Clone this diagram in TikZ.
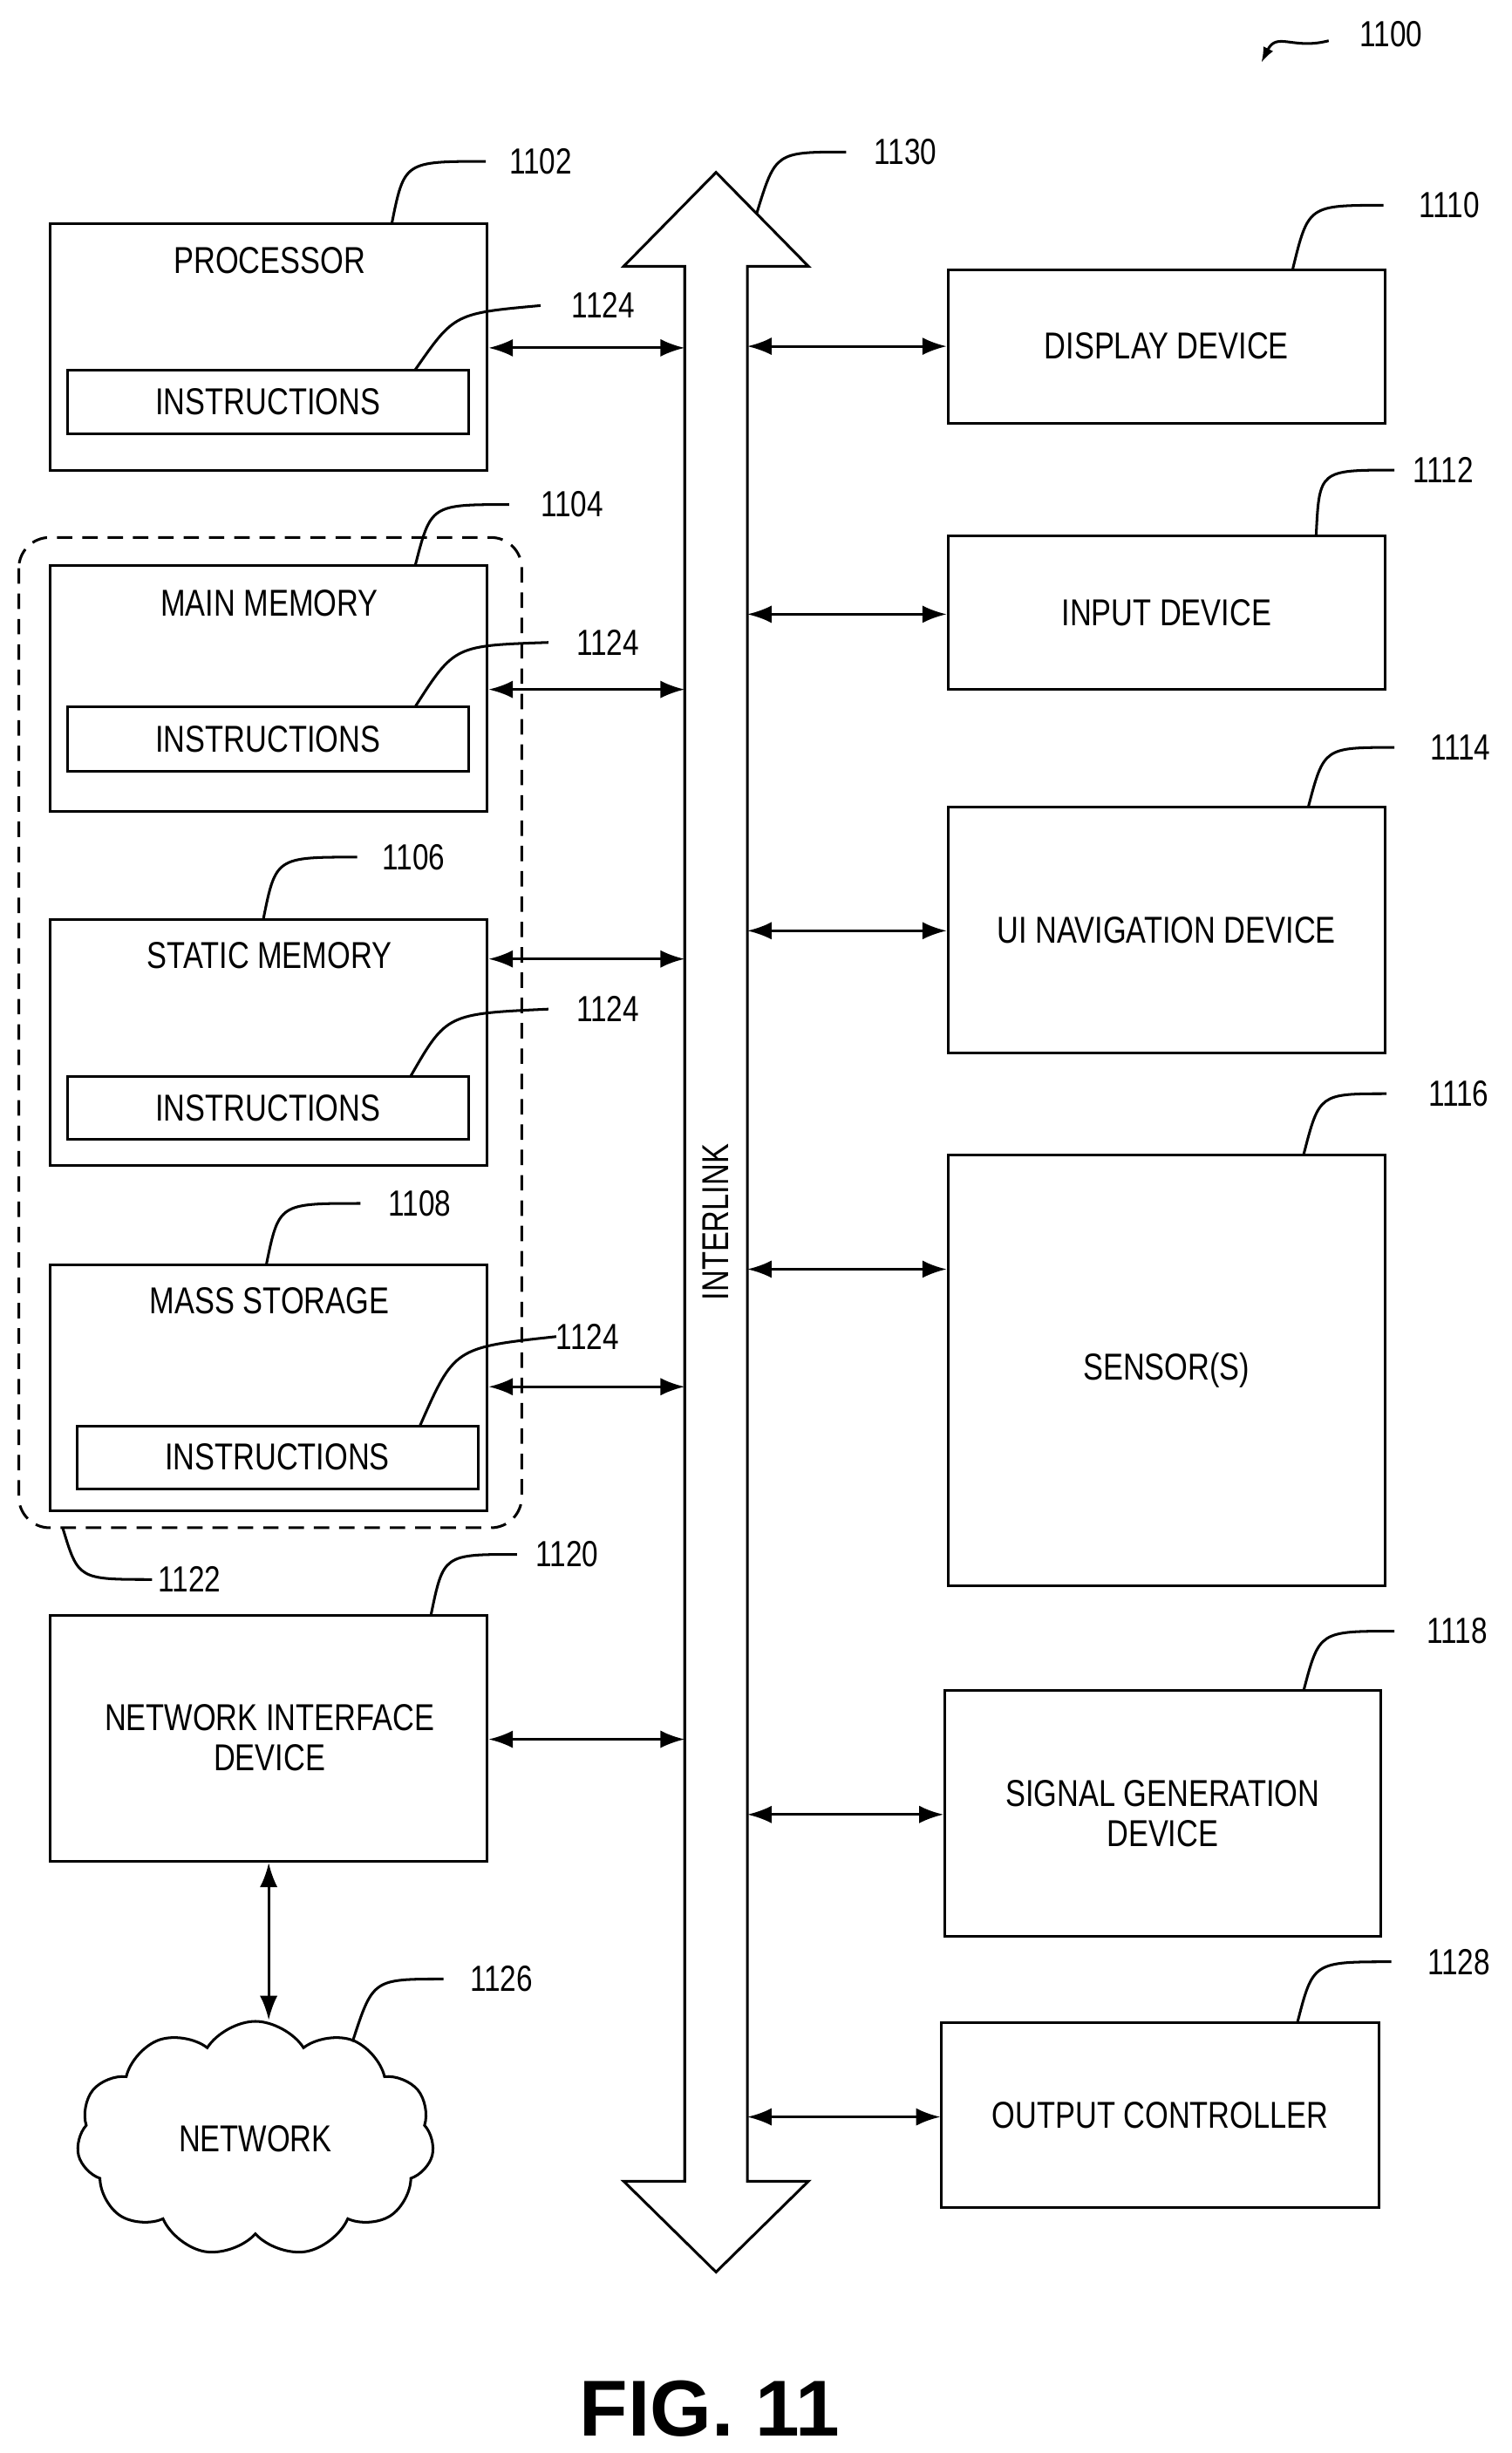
\documentclass[tikz,border=0pt]{standalone}
\usepackage{fontspec}
\setmainfont{Liberation Sans}[FakeStretch=0.8]
\newfontfamily\figfont{Liberation Sans}
\usetikzlibrary{arrows.meta,shapes.symbols}
\begin{document}
\begin{tikzpicture}[x=0.05cm,y=-0.05cm,line width=2.4pt,
  every node/.style={font=\fontsize{34}{40}\selectfont,inner sep=0},
  lbl/.style={font=\fontsize{33}{40}\selectfont},
  arr/.style={{Latex[length=22pt,width=16pt]}-{Latex[length=22pt,width=16pt]}}]
\useasboundingbox (0,0) rectangle (965,1565.5);
\newcommand{\bx}[5]{\node[draw,minimum width={(#4-#2)*0.05cm},minimum height={(#5-#3)*0.05cm}] (#1) at ({(#2+#4)/2},{(#3+#5)/2}) {};}
% left boxes
\bx{pro}{32}{143}{311}{300}
\node (tpro) at (172,166) {PROCESSOR};
\bx{ipro}{43}{236}{299}{277}
\node at (ipro) {INSTRUCTIONS};
\bx{mm}{32}{361}{311}{518}
\node (tmm) at (172,385) {MAIN MEMORY};
\bx{imm}{43}{451}{299}{492}
\node at (imm) {INSTRUCTIONS};
\bx{sm}{32}{587}{311}{744}
\node (tsm) at (172,610) {STATIC MEMORY};
\bx{ism}{43}{687}{299}{727}
\node at (ism) {INSTRUCTIONS};
\bx{ms}{32}{807}{311}{964}
\node (tms) at (172,830) {MASS STORAGE};
\bx{ims}{49}{910}{305}{950}
\node at (ims) {INSTRUCTIONS};
\draw[dashed,dash pattern=on 14pt off 9pt,rounded corners=28pt] (12,343) rectangle (333,975);
\bx{nid}{32}{1031}{311}{1188}
\node[align=center] at (172,1109) {NETWORK INTERFACE\\[-4pt]DEVICE};
\node[cloud,draw,cloud puffs=11,cloud puff arc=115,aspect=1.6,minimum width=228*0.05cm,minimum height=150*0.05cm] (net) at (163,1365) {};
\node at (163,1365) {NETWORK};
% right boxes
\bx{dd}{605}{172}{884}{270}
\node at (dd) {DISPLAY DEVICE};
\bx{id}{605}{342}{884}{440}
\node at (id) {INPUT DEVICE};
\bx{ui}{605}{515}{884}{672}
\node at (ui) {UI NAVIGATION DEVICE};
\bx{se}{605}{737}{884}{1012}
\node at (se) {SENSOR(S)};
\bx{sg}{603}{1079}{881}{1236}
\node[align=center] at (sg) {SIGNAL GENERATION\\[-4pt]DEVICE};
\bx{oc}{601}{1291}{880}{1409}
\node at (oc) {OUTPUT CONTROLLER};
% bus
\draw[line join=miter] (437,1392) -- (437,170) -- (398,170) -- (457,110) -- (516,170) -- (477,170) -- (477,1392) -- (516,1392) -- (457,1450) -- (398,1392) -- cycle;
\coordinate (bl) at (437,0); \coordinate (br) at (477,0);
\node[rotate=90] (il) at (457,780) {INTERLINK};
% arrows left
\draw[arr] (pro.east|-0,222) -- (bl|-0,222);
\draw[arr] (mm.east|-0,440) -- (bl|-0,440);
\draw[arr] (sm.east|-0,612) -- (bl|-0,612);
\draw[arr] (ms.east|-0,885) -- (bl|-0,885);
\draw[arr] (nid.east|-0,1110) -- (bl|-0,1110);
\draw[arr] (nid.south) -- (net.north-|nid.south);
% arrows right
\draw[arr] (br|-0,221) -- (dd.west|-0,221);
\draw[arr] (br|-0,392) -- (id.west|-0,392);
\draw[arr] (br|-0,594) -- (ui.west|-0,594);
\draw[arr] (br|-0,810) -- (se.west|-0,810);
\draw[arr] (br|-0,1158) -- (sg.west|-0,1158);
\draw[arr] (br|-0,1351) -- (oc.west|-0,1351);
% leaders
\draw (250,143) .. controls (258,103) .. (310,103); \node[lbl] at (345,103) {1102};
\draw (265,236) .. controls (290,200) .. (345,195); \node[lbl] at (385,195) {1124};
\draw (265,361) .. controls (275,322) .. (325,322); \node[lbl] at (365,322) {1104};
\draw (265,451) .. controls (290,412) .. (350,410); \node[lbl] at (388,410) {1124};
\draw (168,587) .. controls (176,547) .. (228,547); \node[lbl] at (264,547) {1106};
\draw (262,687) .. controls (285,647) .. (350,644); \node[lbl] at (388,644) {1124};
\draw (170,807) .. controls (178,768) .. (230,768); \node[lbl] at (268,768) {1108};
\draw (268,910) .. controls (290,860) .. (355,853); \node[lbl] at (375,853) {1124};
\draw (40,975) .. controls (50,1008) .. (97,1008); \node[lbl] at (121,1008) {1122};
\draw (275,1031) .. controls (283,992) .. (330,992); \node[lbl] at (362,992) {1120};
\draw (225,1303) .. controls (238,1263) .. (283,1263); \node[lbl] at (320,1263) {1126};
\draw (483,136) .. controls (495,97) .. (540,97); \node[lbl] at (578,97) {1130};
\draw (825,172) .. controls (835,131) .. (883,131); \node[lbl] at (925,131) {1110};
\draw (840,342) .. controls (842,300) .. (890,300); \node[lbl] at (921,300) {1112};
\draw (835,515) .. controls (845,477) .. (890,477); \node[lbl] at (932,477) {1114};
\draw (832,737) .. controls (842,698) .. (885,698); \node[lbl] at (931,698) {1116};
\draw (832,1079) .. controls (842,1041) .. (890,1041); \node[lbl] at (930,1041) {1118};
\draw (828,1291) .. controls (838,1252) .. (888,1252); \node[lbl] at (931,1252) {1128};
\draw[{Latex[length=14pt,width=10pt]}-] (805,40) .. controls (815,20) and (825,32) .. (848,26);
\node[lbl] at (888,22) {1100};
\node[font=\figfont\fontsize{72}{90}\selectfont\bfseries] at (453,1537) {FIG. 11};
\end{tikzpicture}
\end{document}
